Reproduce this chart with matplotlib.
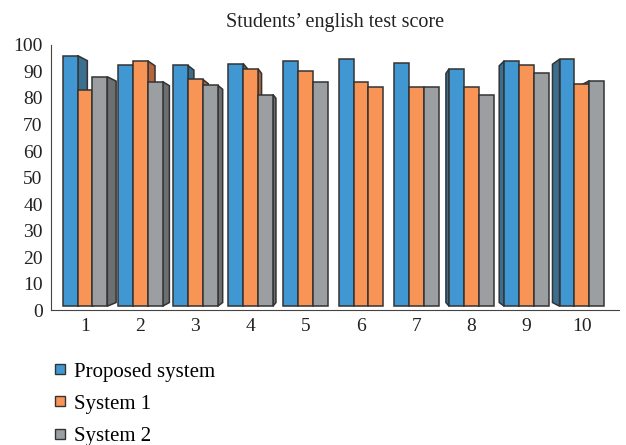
import numpy as np
import matplotlib.pyplot as plt
from matplotlib.patches import Polygon
from matplotlib.lines import Line2D

plt.rcParams['font.family'] = ['Liberation Serif', 'DejaVu Serif']

groups = ["1", "2", "3", "4", "5", "6", "7", "8", "9", "10"]
proposed = [96, 92.3, 92.3, 93, 94, 94.7, 93.2, 91, 94, 94.6]
system1 = [83.2, 94, 87, 91, 90, 86, 84.3, 84, 92.4, 85.2]
system2 = [88, 86.2, 84.8, 81.3, 86, 84.3, 84.3, 81.2, 89.4, 86.5]
series_names = ["Proposed system", "System 1", "System 2"]

front = ["#4197d1", "#f89556", "#9b9fa2"]
side = ["#3b6f8f", "#b5653c", "#6b6f71"]

fig = plt.figure(figsize=(6.26, 4.45), dpi=100)
ax = fig.add_axes([0.0815, 0.303, 0.908, 0.596])

x = np.arange(1, len(groups) + 1)
w = 0.27
floor = 1.5
vx, vy, s = 5.95, 41, 0.965  # vanishing point for the fake 3D look

def back(px, py):
    return vx + s * (px - vx), vy + s * (py - vy)

series = [proposed, system1, system2]
for j, vals in enumerate(series):
    for i, v in enumerate(vals):
        xc = x[i] + (j - 1) * w
        l, r = xc - w / 2, xc + w / 2
        fc, sc = front[j], side[j]
        if j == 2 and i == 5:
            fc, sc = front[1], side[1]
        # side face toward the vanishing point (tiny ones are not drawn)
        ex = r if r < vx else l
        if abs(ex - vx) * (1 - s) > 0.045:
            bx0, by0 = back(ex, floor)
            bx1, by1 = back(ex, v)
            ax.add_patch(Polygon([(ex, floor), (bx0, by0), (bx1, by1), (ex, v)],
                                 closed=True, facecolor=sc, edgecolor="#333333",
                                 lw=1.1, zorder=2))
        ax.bar(xc, v - floor, w, bottom=floor, color=fc, edgecolor="#333333",
               lw=1.1, zorder=3)

ax.set_xlim(0.385, 10.68)
ax.set_ylim(0, 100)
ax.set_yticks(range(0, 101, 10))
ax.set_xticks(x)
ax.set_xticklabels(groups)
ax.tick_params(length=0, labelsize=14, colors="#222222", pad=6)
for sp in ["top", "right"]:
    ax.spines[sp].set_visible(False)
ax.spines["left"].set_color("#444444")
ax.spines["bottom"].set_color("#444444")
ax.set_title("Students\u2019 english test score", fontsize=14.5, pad=13, color="#222222")

handles = [Line2D([0], [0], marker="s", ls="none", markersize=7,
                  markerfacecolor=front[k], markeredgecolor="#333333")
           for k in range(3)]
fig.legend(handles, series_names, loc="upper left", bbox_to_anchor=(0.068, 0.205),
           frameon=False, fontsize=15, handlelength=0.9, handletextpad=0.2,
           labelspacing=0.6, borderaxespad=0)

fig.savefig("out.png", dpi=100)
